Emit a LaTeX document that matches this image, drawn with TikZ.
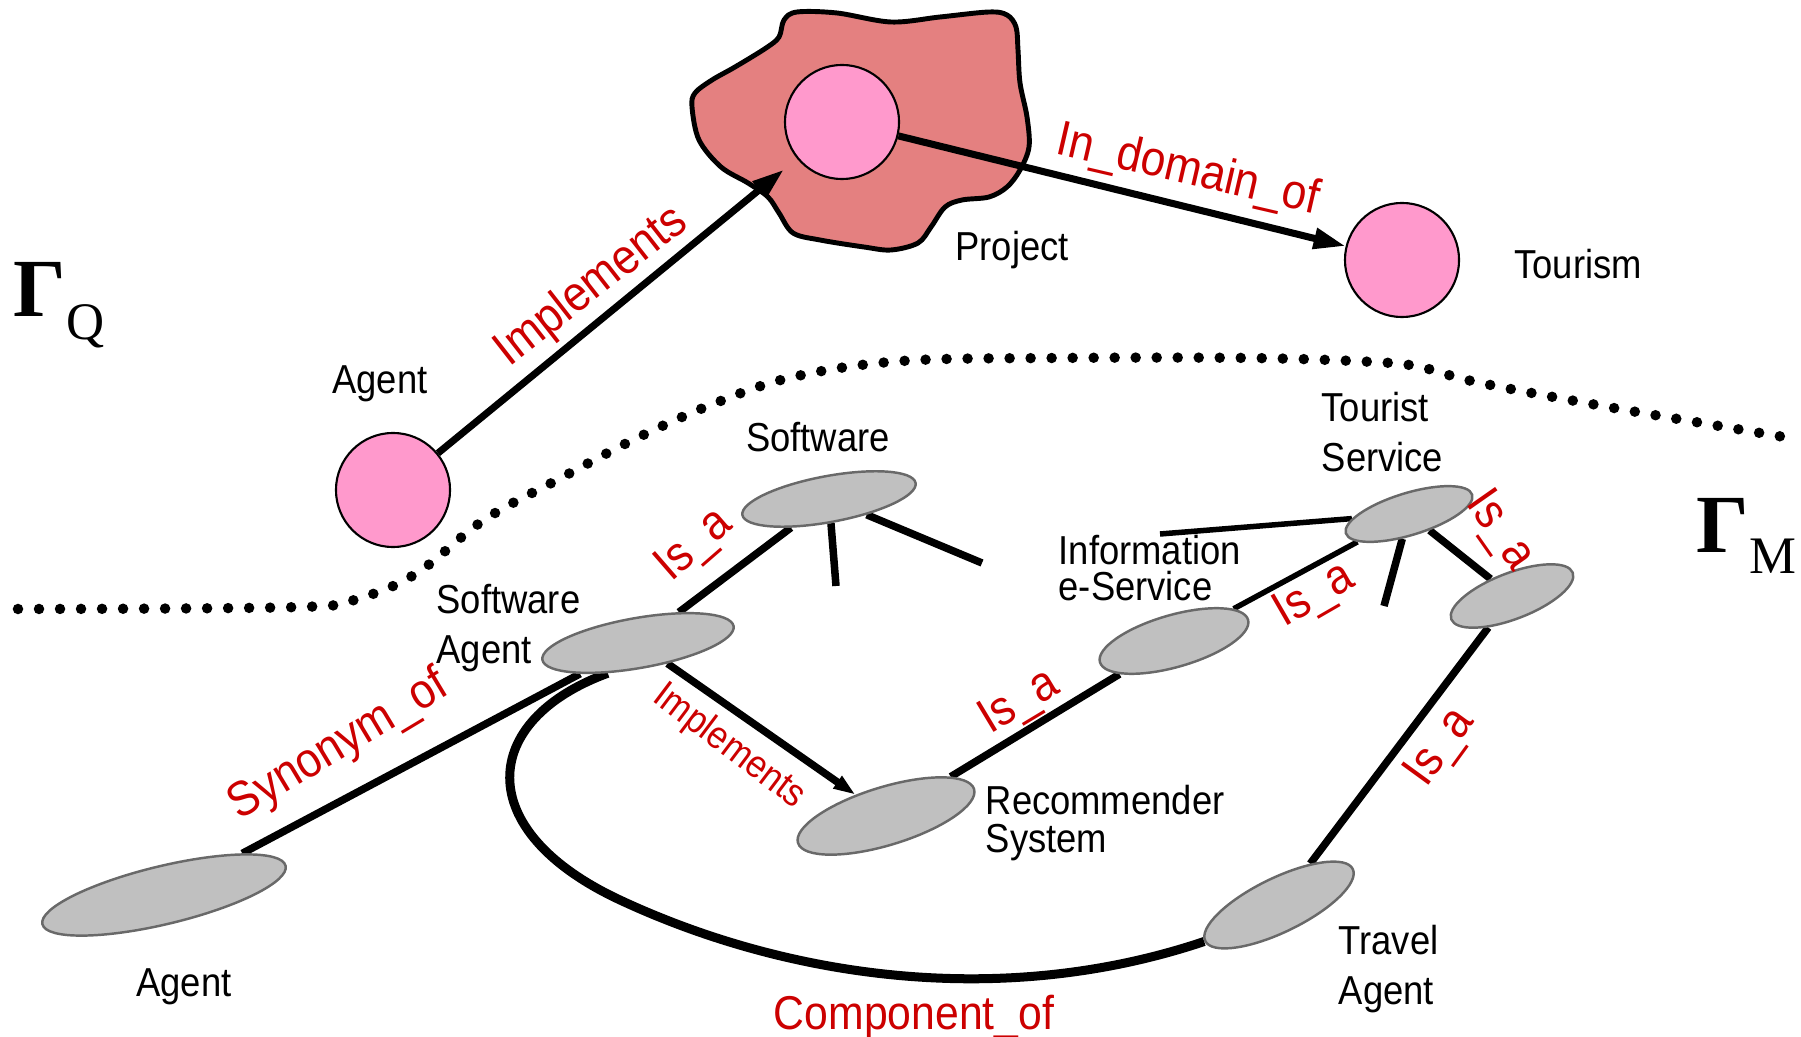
\documentclass[tikz,border=0pt]{standalone}
\usepackage{fontspec}
\setmainfont{Liberation Sans}[FakeStretch=0.9]
\newfontfamily\greekfont{Liberation Serif}
\usetikzlibrary{arrows.meta,shapes.geometric,backgrounds}
\definecolor{pinkfill}{RGB}{255,153,204}
\definecolor{blobfill}{RGB}{228,128,128}
\definecolor{relred}{RGB}{204,0,0}
\definecolor{conceptfill}{RGB}{192,192,192}
\definecolor{conceptline}{RGB}{105,105,105}
\tikzset{
  qnode/.style={circle, draw, line width=0.6pt, fill=pinkfill, minimum size=11.4mm, inner sep=0pt},
  concept/.style={ellipse, draw=conceptline, line width=0.7pt, fill=conceptfill, inner sep=0pt},
  lbl/.style={font=\fontsize{11.5}{14.4}\selectfont, inner sep=0pt, align=left},
  rel/.style={text=relred, font=\fontsize{14}{14}\selectfont, inner sep=0pt},
  qarrow/.style={line width=2pt, -{Triangle[length=3.2mm,width=2mm]}},
  link/.style={line width=0.75mm},
  thinlink/.style={line width=0.55mm},
  dotline/.style={line width=1.05mm, line cap=round, dash pattern=on 0pt off 2.1mm},
}
\begin{document}
\begin{tikzpicture}[x=0.01cm, y=-0.01cm]
                \useasboundingbox (0,0) rectangle (1801,1037);
                % query graph
                \draw[line width=1.4pt, fill=blobfill] plot[smooth cycle, tension=0.55] coordinates {(784,20) (797,12) (837,13) (891,22) (940,17) (989,12) (1007,15) (1016,27) (1018,50) (1020,83) (1027,117) (1029,147) (1020,170) (1007,187) (989,197) (962,200) (945,207) (931,227) (918,243) (891,250) (864,247) (820,240) (793,233) (779,213) (768,197) (748,183) (721,167) (699,140) (692,107) (695,93) (712,80) (735,67) (766,48) (779,37)};
                \node[qnode] (prj) at (842,122) {};
                \node[qnode] (tour) at (1402,260) {};
                \node[qnode] (agq) at (393,490) {};
                \node[lbl] (prjtxt) at (1012,250) {Project};
                \node[lbl] (tourtxt) at (1578,264) {Tourism};
                \node[lbl] (agqtxt) at (380,384) {Agent};
                \draw[qarrow, shorten >=1.7mm] (agq) -- (prj);
                \draw[qarrow] (prj) -- (tour);
                \node[rel, rotate=38] (implq) at (592,287) {Implements};
                \node[rel, rotate=-13] (domq) at (1188,171) {In\_domain\_of};
                \node[anchor=base west, inner sep=0pt] (gq) at (13,317) {\greekfont\fontsize{23.5}{24}\selectfont\bfseries Γ\raisebox{-6.5pt}{\mdseries\fontsize{15}{15}\selectfont Q}};
                \node[anchor=base west, inner sep=0pt] (gm) at (1696,552) {\greekfont\fontsize{23.5}{24}\selectfont\bfseries Γ\raisebox{-6pt}{\mdseries\fontsize{15}{15}\selectfont M}};
                % border between the two graphs
                \draw[dotline] plot[smooth, tension=0.6] coordinates {(18,609) (300,607) (360,598) (417,573) (484,520) (559,479) (635,439) (713,404) (793,377) (902,361) (1055,358) (1250,358) (1374,362) (1420,367) (1476,382) (1597,405) (1725,427) (1790,438)};
                % model graph
                \foreach \n/\x/\y/\w/\h/\r in {sw/829/499/17.6/4.6/10.5, sa/638/643/19.4/5/10, agb/164/895/25/5.8/13.5, rec/886/816/18.4/5.8/17, info/1174/641/15.4/5.2/16, ts/1409/514/13.2/4.2/17, tsub/1512/596/13/4.6/21, ta/1279/905/16.4/5.4/26}{
                    \node[concept, minimum width=\w mm, minimum height=\h mm, rotate=\r] (\n) at (\x,\y) {};
                }
                \node[lbl] (swtxt) at (818,437) {Software};
                \node[lbl, anchor=west] (satxt) at (436,628) {Software\\Agent};
                \node[lbl] (agbtxt) at (184,987) {Agent};
                \node[lbl, anchor=west] (rectxt) at (985,823) {Recommender\\[-3.8pt]System};
                \node[lbl, anchor=west] (infotxt) at (1058,568) {Information\\[-4.2pt]e-Service};
                \node[lbl, anchor=west] (tstxt) at (1321,432) {Tourist\\Service};
                \node[lbl, anchor=west] (tatxt) at (1338,969) {Travel\\Agent};
                \coordinate (swend1) at (836,586);
                \coordinate (swend2) at (982,563);
                \coordinate (tsend1) at (1160,534);
                \coordinate (tsend2) at (1384,606);
                \begin{scope}[on background layer]
                    \draw[link] (sa) -- (sw);
                    \draw[link] (sw) -- (swend1);
                    \draw[link] (sw) -- (swend2);
                    \draw[link, -{Triangle[length=2.2mm,width=1.4mm]}] (sa) -- (rec);
                    \draw[link] (sa) -- (agb);
                    \draw[link] (rec) -- (info);
                    \draw[thinlink] (info) -- (ts);
                    \draw[thinlink] (ts) -- (tsend1);
                    \draw[link] (ts) -- (tsend2);
                    \draw[link] (ts) -- (tsub);
                    \draw[link] (tsub) -- (ta);
                    \draw[line width=0.9mm] (sa.215) .. controls (480,720) and (470,830) .. (620,900) .. controls (785,977) and (1000,1010) .. (ta.180);
                \end{scope}
                \node[rel, rotate=41] (isa1) at (695,546) {Is\_a};
                \node[rel, rotate=-37, font=\fontsize{11}{11}\selectfont] (impl) at (729,747) {Implements};
                \node[rel, rotate=31] (syn) at (339,746) {Synonym\_of};
                \node[rel, rotate=31] (isa2) at (1020,703) {Is\_a};
                \node[rel, rotate=30] (isa3) at (1315,596) {Is\_a};
                \node[rel, rotate=-55] (isa4) at (1499,531) {Is\_a};
                \node[rel, rotate=54] (isa5) at (1441,748) {Is\_a};
                \node[rel, font=\fontsize{13.5}{13.5}\selectfont] (comp) at (914,1017) {Component\_of};
            \end{tikzpicture}
\end{document}
